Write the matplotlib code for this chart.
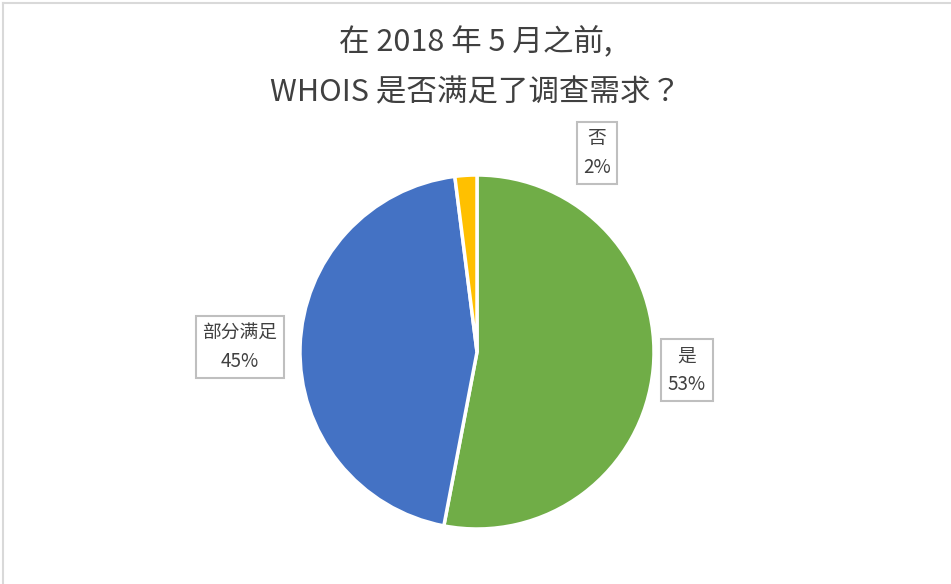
import matplotlib
matplotlib.use("Agg")
import matplotlib.pyplot as plt
from matplotlib.lines import Line2D

plt.rcParams['font.family'] = ['Noto Sans CJK SC', 'DejaVu Sans']

categories = ['是', '部分满足', '否']
values = [53, 45, 2]
colors = ['#70AD47', '#4472C4', '#FFC000']
title_lines = ['在 2018 年 5 月之前,', 'WHOIS 是否满足了调查需求？']

W, H = 951, 584
fig = plt.figure(figsize=(W / 100, H / 100), dpi=100)

# chart border (top and left visible)
fig.add_artist(Line2D([2.5 / W, 2.5 / W], [0, 1 - 3 / H], color='#d9d9d9', lw=1.5, transform=fig.transFigure))
fig.add_artist(Line2D([2.5 / W, 1], [1 - 3 / H, 1 - 3 / H], color='#d9d9d9', lw=1.5, transform=fig.transFigure))

cx, cy, r = 477, 352, 177
ax = fig.add_axes([(cx - r) / W, (H - cy - r) / H, 2 * r / W, 2 * r / H])
ax.pie(values, colors=colors, startangle=90, counterclock=False,
       wedgeprops=dict(edgecolor='white', linewidth=2.5))
ax.set_aspect('equal')
ax.set_xlim(-1, 1)
ax.set_ylim(-1, 1)
ax.axis('off')

fig.text(0.5, 1 - 42 / H, title_lines[0], ha='center', va='center', fontsize=22, color='#404040')
fig.text(0.5, 1 - 93 / H, title_lines[1], ha='center', va='center', fontsize=22, color='#404040',
         family=['Noto Sans CJK TC', 'DejaVu Sans'])

label_pos = [(687, 370), (240, 347), (597, 153)]
for cat, v, (px, py) in zip(categories, values, label_pos):
    fig.text(px / W, 1 - py / H, f'{cat}\n{v}%', ha='center', va='center', fontsize=13.5,
             color='#404040', linespacing=1.45, multialignment='center',
             bbox=dict(boxstyle='square,pad=0.35', facecolor='white', edgecolor='#bfbfbf', linewidth=1.5))

fig.savefig('out.png', dpi=100, facecolor='white')
